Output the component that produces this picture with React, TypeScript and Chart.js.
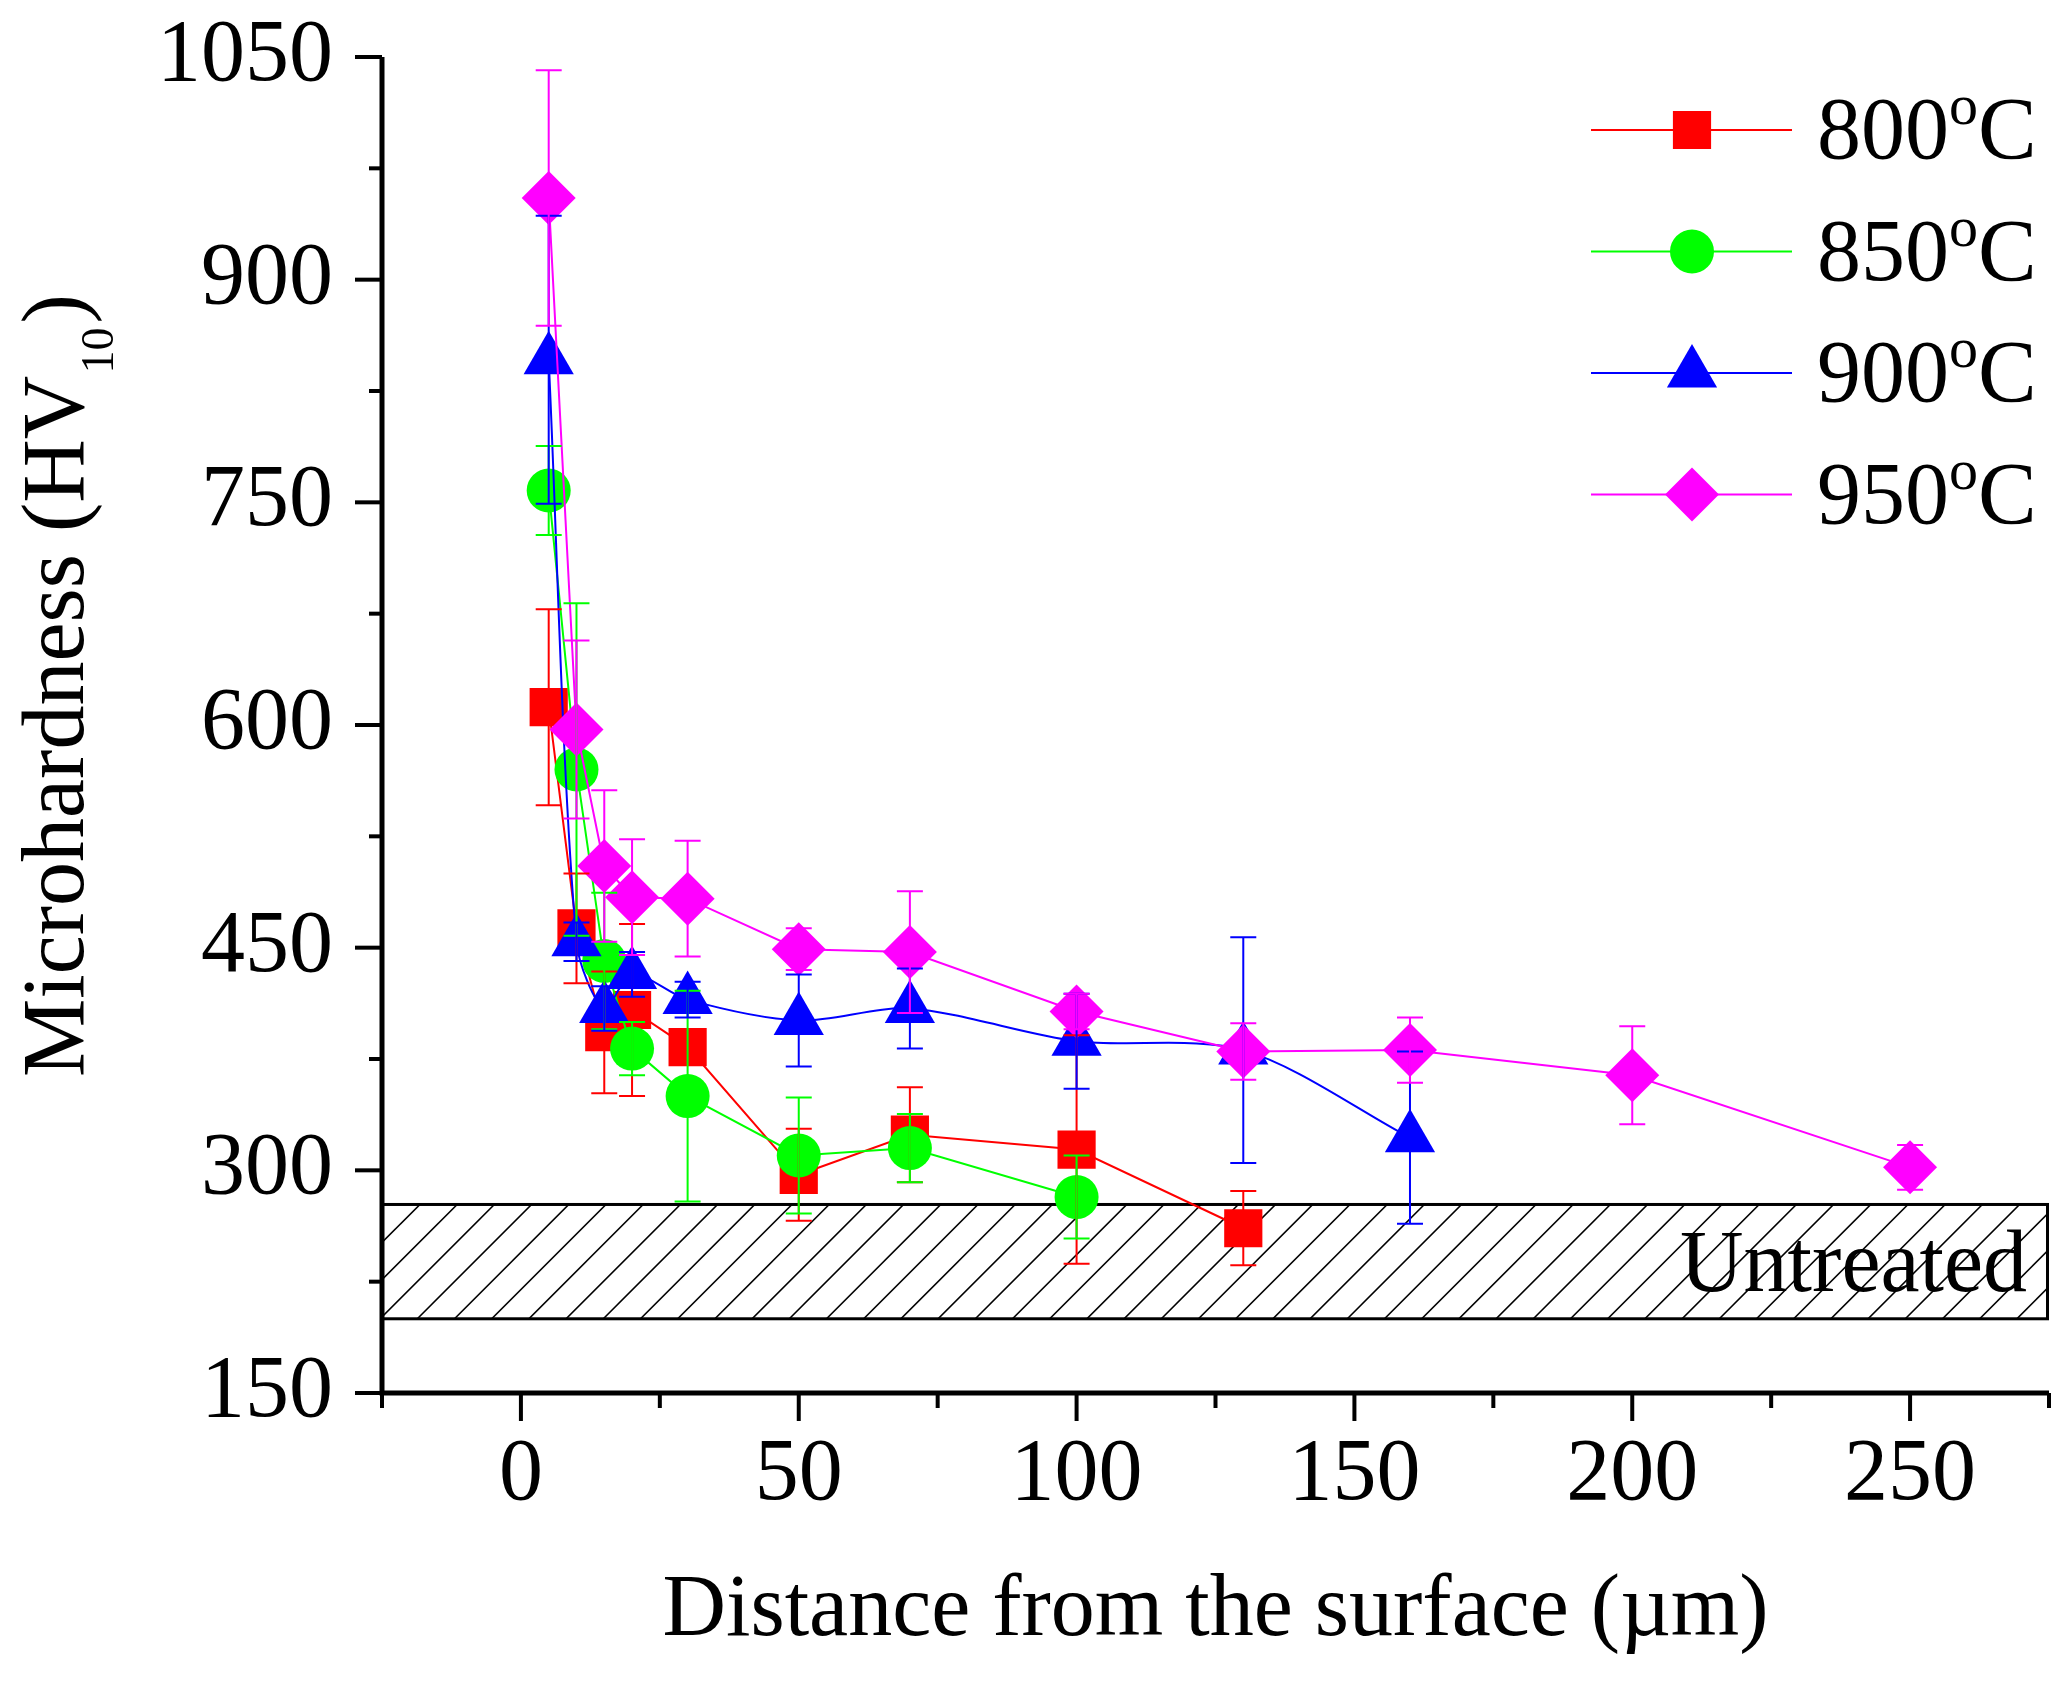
import React, { useEffect, useRef } from 'react';
import { Chart, registerables } from 'chart.js';

Chart.register(...registerables);

// ---- data ----
const DEPTH_800 = [5, 10, 15, 20, 30, 50, 70, 100, 130];
const HV_800 = [612, 463, 393, 408, 383, 297, 324, 314, 261];
const ERR_800 = [66, 37, 41, 58, 10, 31, 32, 77, 25];

const DEPTH_850 = [5, 10, 15, 20, 30, 50, 70, 100];
const HV_850 = [758, 570, 441, 382, 350, 310, 315, 282];
const ERR_850 = [30, 112, 46, 18, 71, 39, 23, 28];

const DEPTH_900 = [5, 10, 15, 20, 30, 50, 70, 100, 130, 160];
const HV_900 = [846, 454, 409, 432, 415, 401, 409, 387, 381, 322];
const ERR_900 = [97, 13, 15, 15, 12, 31, 27, 32, 76, 58];

const DEPTH_950 = [5, 10, 15, 20, 30, 50, 70, 100, 130, 160, 200, 250];
const HV_950 = [955, 597, 505, 484, 483, 449, 447, 407, 380, 381, 364, 302];
const ERR_950 = [86, 60, 51, 39, 39, 14, 41, 12, 19, 22, 33, 15];

const SERIES_LABELS = ['800', '850', '900', '950'];
const UNTREATED_MIN = 200;
const UNTREATED_MAX = 277;
const UNTREATED_LABEL = 'Untreated';

const X_MIN = -25;
const X_MAX = 275;
const X_STEP = 25;
const Y_MIN = 150;
const Y_MAX = 1050;
const Y_STEP = 75;

const X_TITLE = 'Distance from the surface (µm)';
const Y_TITLE_MAIN = 'Microhardness (HV';
const Y_TITLE_SUB = '10';
const Y_TITLE_END = ')';

// ---- styles ----
const FONT = '"Liberation Serif", "Times New Roman", serif';
const COLORS = ['#FF0000', '#00FF00', '#0000FF', '#FF00FF'];
const STYLES = ['rect', 'circle', 'triangle', 'rectRot'];
const RADII = [27, 22, 29, 27];
const TENSIONS = [0, 0, 0.3, 0];

const SERIES = [
  { x: DEPTH_800, y: HV_800, e: ERR_800 },
  { x: DEPTH_850, y: HV_850, e: ERR_850 },
  { x: DEPTH_900, y: HV_900, e: ERR_900 },
  { x: DEPTH_950, y: HV_950, e: ERR_950 },
];

function drawMarker(ctx: CanvasRenderingContext2D, style: string, x: number, y: number, r: number) {
  ctx.beginPath();
  if (style === 'circle') {
    ctx.arc(x, y, r, 0, Math.PI * 2);
  } else if (style === 'rect') {
    const s = Math.SQRT1_2 * r;
    ctx.rect(x - s, y - s, 2 * s, 2 * s);
  } else if (style === 'triangle') {
    let a = 0;
    ctx.moveTo(x + Math.sin(a) * r, y - Math.cos(a) * r);
    a += (2 * Math.PI) / 3;
    ctx.lineTo(x + Math.sin(a) * r, y - Math.cos(a) * r);
    a += (2 * Math.PI) / 3;
    ctx.lineTo(x + Math.sin(a) * r, y - Math.cos(a) * r);
    ctx.closePath();
  } else {
    ctx.moveTo(x, y - r);
    ctx.lineTo(x + r, y);
    ctx.lineTo(x, y + r);
    ctx.lineTo(x - r, y);
    ctx.closePath();
  }
  ctx.fill();
}

const decorPlugin = {
  id: 'decor',
  beforeDatasetsDraw(chart: any) {
    const { ctx, chartArea: ca, scales } = chart;
    const ys = scales.y;
    const top = ys.getPixelForValue(UNTREATED_MAX);
    const bot = ys.getPixelForValue(UNTREATED_MIN);
    const h = bot - top;
    const sp = 37.2;
    ctx.save();
    ctx.beginPath();
    ctx.rect(ca.left, top, ca.right - ca.left, h);
    ctx.clip();
    ctx.strokeStyle = '#000';
    ctx.lineWidth = 1.6;
    for (let tx = ca.left + 38 - 10 * sp; tx < ca.right + h + sp; tx += sp) {
      ctx.beginPath();
      ctx.moveTo(tx - h, bot);
      ctx.lineTo(tx, top);
      ctx.stroke();
    }
    ctx.restore();
    ctx.save();
    ctx.strokeStyle = '#000';
    ctx.lineWidth = 3;
    ctx.strokeRect(ca.left, top, ca.right - ca.left - 1.5, h);
    ctx.fillStyle = '#000';
    ctx.font = `88px ${FONT}`;
    ctx.textAlign = 'right';
    ctx.textBaseline = 'alphabetic';
    ctx.fillText(UNTREATED_LABEL, ca.right - 22, bot - 28);
    ctx.restore();
  },
  afterDatasetsDraw(chart: any) {
    const { ctx, scales } = chart;
    const xs = scales.x;
    const ys = scales.y;
    ctx.save();
    ctx.lineWidth = 2;
    SERIES.forEach((s, i) => {
      ctx.strokeStyle = COLORS[i];
      s.x.forEach((xv, j) => {
        const px = xs.getPixelForValue(xv);
        const p1 = ys.getPixelForValue(s.y[j] + s.e[j]);
        const p2 = ys.getPixelForValue(s.y[j] - s.e[j]);
        ctx.beginPath();
        ctx.moveTo(px, p1);
        ctx.lineTo(px, p2);
        ctx.moveTo(px - 13, p1);
        ctx.lineTo(px + 13, p1);
        ctx.moveTo(px - 13, p2);
        ctx.lineTo(px + 13, p2);
        ctx.stroke();
      });
    });
    ctx.restore();
  },
  afterDraw(chart: any) {
    const { ctx, chartArea: ca, scales } = chart;
    const xs = scales.x;
    const ys = scales.y;
    ctx.save();
    ctx.strokeStyle = '#000';
    ctx.lineCap = 'butt';
    // axes
    ctx.lineWidth = 5;
    ctx.beginPath();
    ctx.moveTo(ca.left, ca.top);
    ctx.lineTo(ca.left, ca.bottom + 2.5);
    ctx.moveTo(ca.left - 2.5, ca.bottom);
    ctx.lineTo(ca.right, ca.bottom);
    ctx.stroke();
    // ticks
    ctx.lineWidth = 4;
    ys.ticks.forEach((t: any) => {
      const py = ys.getPixelForValue(t.value);
      const major = (t.value - Y_MIN) % (2 * Y_STEP) === 0;
      ctx.beginPath();
      ctx.moveTo(ca.left, py);
      ctx.lineTo(ca.left - (major ? 27 : 13), py);
      ctx.stroke();
    });
    xs.ticks.forEach((t: any) => {
      const px = xs.getPixelForValue(t.value);
      const major = t.value % (2 * X_STEP) === 0;
      ctx.beginPath();
      ctx.moveTo(px, ca.bottom);
      ctx.lineTo(px, ca.bottom + (major ? 28 : 15));
      ctx.stroke();
    });
    // x title
    ctx.fillStyle = '#000';
    ctx.font = `88px ${FONT}`;
    ctx.textAlign = 'center';
    ctx.textBaseline = 'alphabetic';
    ctx.fillText(X_TITLE, (ca.left + ca.right) / 2, ca.bottom + 242);
    // y title
    ctx.save();
    ctx.translate(83, ca.bottom - 316);
    ctx.rotate(-Math.PI / 2);
    ctx.textAlign = 'left';
    ctx.font = `88px ${FONT}`;
    ctx.fillText(Y_TITLE_MAIN, 0, 0);
    const w1 = ctx.measureText(Y_TITLE_MAIN).width;
    ctx.font = `46px ${FONT}`;
    ctx.fillText(Y_TITLE_SUB, w1 + 2, 30);
    const w2 = ctx.measureText(Y_TITLE_SUB).width;
    ctx.font = `88px ${FONT}`;
    ctx.fillText(Y_TITLE_END, w1 + w2 + 6, 0);
    ctx.restore();
    // legend
    const lx0 = 1591;
    const lx1 = 1792;
    const lmx = 1692;
    const tx = 1817;
    SERIES_LABELS.forEach((lab, i) => {
      const ry = 130 + i * 121.5;
      ctx.strokeStyle = COLORS[i];
      ctx.fillStyle = COLORS[i];
      ctx.lineWidth = 2;
      ctx.beginPath();
      ctx.moveTo(lx0, ry);
      ctx.lineTo(lx1, ry);
      ctx.stroke();
      drawMarker(ctx, STYLES[i], lmx, ry, RADII[i]);
      ctx.fillStyle = '#000';
      ctx.textAlign = 'left';
      ctx.font = `88px ${FONT}`;
      ctx.fillText(lab, tx, ry + 28);
      const wl = ctx.measureText(lab).width;
      ctx.font = `58px ${FONT}`;
      ctx.fillText('o', tx + wl, ry - 6);
      const wo = ctx.measureText('o').width;
      ctx.font = `88px ${FONT}`;
      ctx.fillText('C', tx + wl + wo, ry + 28);
    });
    ctx.restore();
  },
};

export default function App() {
  const ref = useRef<HTMLCanvasElement | null>(null);
  useEffect(() => {
    document.body.style.margin = '0';
    document.body.style.background = '#fff';
    const canvas = ref.current;
    if (!canvas) return;
    const datasets = SERIES.map((s, i) => ({
      label: SERIES_LABELS[i],
      data: s.x.map((xv, j) => ({ x: xv, y: s.y[j] })),
      borderColor: COLORS[i],
      backgroundColor: COLORS[i],
      borderWidth: 2,
      pointStyle: STYLES[i],
      pointRadius: RADII[i],
      pointBorderWidth: 0,
      pointBackgroundColor: COLORS[i],
      pointBorderColor: COLORS[i],
      tension: TENSIONS[i],
      order: 3 - i,
      clip: false,
    }));
    const chart = new Chart(canvas, {
      type: 'line',
      data: { datasets } as any,
      options: {
        animation: false,
        responsive: false,
        devicePixelRatio: 1,
        events: [],
        layout: { autoPadding: false, padding: { left: 0, right: 21, top: 57, bottom: 0 } } as any,
        plugins: { legend: { display: false }, tooltip: { enabled: false } },
        scales: {
          x: {
            type: 'linear',
            min: X_MIN,
            max: X_MAX,
            grid: { display: false, drawTicks: false },
            border: { display: false },
            afterFit: (s: any) => {
              s.height = 291;
              s.paddingLeft = 0;
              s.paddingRight = 0;
              s.paddingTop = 0;
              s.paddingBottom = 0;
            },
            ticks: {
              stepSize: X_STEP,
              autoSkip: false,
              maxRotation: 0,
              padding: 30,
              color: '#000',
              font: { family: FONT, size: 88 },
              callback: (v: any) => (v % 50 === 0 && v >= 0 && v <= 250 ? String(v) : ''),
            },
          },
          y: {
            type: 'linear',
            min: Y_MIN,
            max: Y_MAX,
            grid: { display: false, drawTicks: false },
            border: { display: false },
            afterFit: (s: any) => {
              s.width = 382;
              s.paddingLeft = 0;
              s.paddingRight = 0;
              s.paddingTop = 0;
              s.paddingBottom = 0;
            },
            ticks: {
              stepSize: Y_STEP,
              autoSkip: false,
              padding: 49,
              color: '#000',
              font: { family: FONT, size: 88 },
              callback: (v: any) => ((v - Y_MIN) % 150 === 0 ? String(v) : ''),
            },
          },
        },
      } as any,
      plugins: [decorPlugin],
    });
    return () => chart.destroy();
  }, []);
  return (
    <div style={{ position: 'fixed', left: 0, top: 0, width: 2070, height: 1684, background: '#fff', overflow: 'hidden' }}>
      <canvas ref={ref} width={2070} height={1684} style={{ display: 'block' }} />
    </div>
  );
}
